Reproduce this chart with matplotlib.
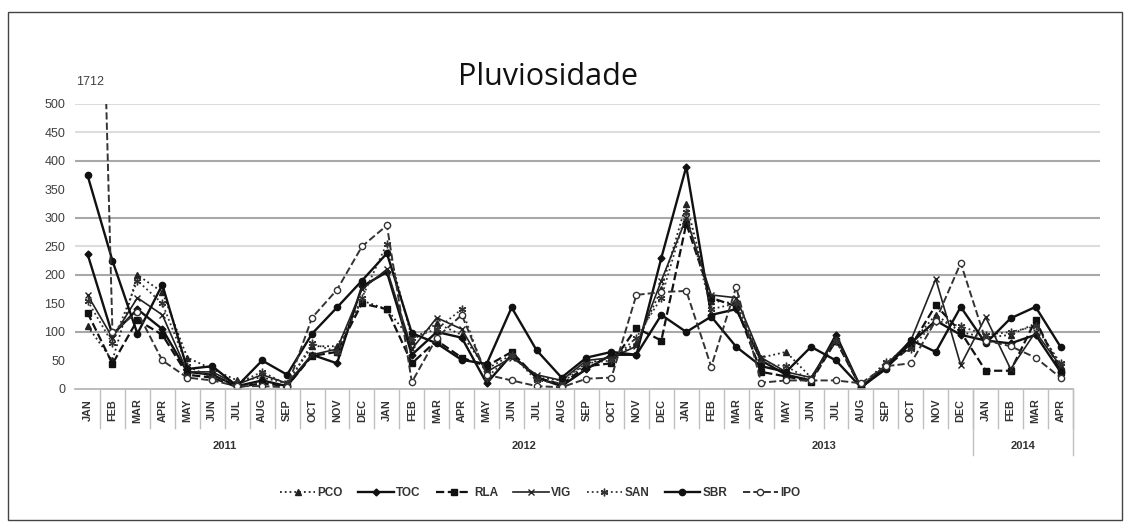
import matplotlib
matplotlib.use('Agg')
import matplotlib.pyplot as plt
import matplotlib.transforms as mtransforms
from matplotlib.patches import Rectangle

# monthly rainfall per station, JAN 2011 .. APR 2014
months = ['JAN', 'FEB', 'MAR', 'APR', 'MAY', 'JUN', 'JUL', 'AUG', 'SEP', 'OCT', 'NOV', 'DEC'] * 3 + ['JAN', 'FEB', 'MAR', 'APR']
years = ['2011', '2012', '2013', '2014']
year_len = [12, 12, 12, 4]

PCO = [110, 50, 200, 170, 55, 35, 15, 20, 10, 75, 75, 155, 140, 85, 115, 95, 35, 60, 20, 15,
       45, 55, 80, 175, 325, 155, 150, 55, 65, 20, 85, 3, 45, 80, 130, 100, 90, 95, 115, 40]
TOC = [237, 95, 140, 105, 30, 25, 5, 15, 5, 60, 45, 180, 205, 60, 100, 90, 10, 60, 20, 5,
       35, 60, 60, 230, 390, 130, 140, 50, 25, 15, 95, 2, 40, 80, 120, 95, 85, 80, 95, 30]
RLA = [134, 44, 121, 95, 25, 20, 3, 10, 5, 58, 65, 150, 140, 45, 85, 55, 40, 65, 20, 8,
       40, 45, 107, 85, 290, 160, 145, 30, 22, 13, 85, 2, 38, 75, 147, 100, 32, 32, 121, 30]
VIG = [165, 90, 160, 130, 30, 30, 8, 25, 10, 60, 70, 175, 210, 70, 125, 105, 30, 55, 25, 15,
       50, 55, 75, 190, 300, 165, 160, 55, 30, 20, 90, 3, 42, 85, 193, 42, 126, 35, 100, 40]
SAN = [155, 80, 190, 150, 40, 20, 10, 30, 8, 80, 65, 160, 255, 90, 105, 140, 20, 60, 15, 10,
       45, 50, 90, 160, 310, 140, 150, 45, 40, 15, 85, 3, 48, 70, 120, 110, 95, 100, 110, 45]
SBR = [375, 225, 97, 183, 35, 40, 5, 50, 25, 97, 143, 190, 238, 98, 80, 51, 44, 143, 68, 20,
       55, 65, 60, 130, 100, 127, 74, 40, 30, 74, 50, 3, 35, 86, 65, 144, 80, 124, 144, 74]
IPO = [1712, 100, 135, 50, 20, 15, 5, 5, 3, 125, 174, 250, 287, 12, 90, 130, 25, 15, 5, 3,
       18, 20, 165, 170, 172, 39, 179, 11, 15, 15, 15, 10, 40, 45, 120, 221, 85, 75, 55, 20]

plt.rcParams['font.family'] = ['Liberation Sans', 'DejaVu Sans']

fig = plt.figure(figsize=(11.3, 5.27), dpi=100)
ax = fig.add_axes([0.0664, 0.2619, 0.907, 0.5408])

x = list(range(len(months)))

ax.plot(x, PCO, ls=':', lw=1.3, color='#222222', marker='^', ms=4.5, label='PCO')
ax.plot(x, TOC, ls='-', lw=1.7, color='#111111', marker='D', ms=3.5, label='TOC')
ax.plot(x, RLA, ls='--', lw=1.6, color='#111111', marker='s', ms=4.5, label='RLA')
ax.plot(x, VIG, ls='-', lw=1.2, color='#222222', marker='x', ms=4.5, label='VIG')
ax.plot(x, SAN, ls=':', lw=1.3, color='#333333', marker=(6, 2, 0), ms=5.5, label='SAN')
ax.plot(x, SBR, ls='-', lw=1.7, color='#111111', marker='o', ms=4.5, label='SBR')
ax.plot(x, IPO, ls='--', lw=1.4, color='#333333', marker='o', ms=4.5, mfc='white', label='IPO')

ax.set_ylim(0, 500)
ax.set_xlim(-0.5, 40.58)
ax.set_yticks(range(0, 501, 50))
ax.tick_params(axis='y', length=0, pad=7, labelsize=9, labelcolor='#404040')
ax.set_xticks([])
for s in ax.spines.values():
    s.set_visible(False)

# grid: darker at the hundreds, light at a few others
for v in [100, 200, 300, 400]:
    ax.axhline(v, color='#a8a8a8', lw=1.5, zorder=0)
for v in [250, 450, 500]:
    ax.axhline(v, color='#dddddd', lw=1.5, zorder=0)

# category axis
trans = mtransforms.blended_transform_factory(ax.transData, ax.transAxes)
ax.plot([-0.5, len(months) - 0.5], [0, 0], color='#b0b0b0', lw=1.2, transform=trans, clip_on=False)
for k in range(len(months)):
    ax.plot([k + 0.5, k + 0.5], [0, -0.137], color='#c0c0c0', lw=1.0, transform=trans, clip_on=False)
    ax.text(k, -0.074, months[k], rotation=90, ha='center', va='center', fontsize=7.8,
            fontweight='bold', color='#333333', transform=trans)

start = 0
for yr, n in zip(years, year_len):
    ax.text(start + (n - 1) / 2, -0.2, yr, ha='center', va='center', fontsize=8,
            fontweight='bold', color='#333333', transform=trans)
    start += n
for b in [35.5, 39.5]:
    ax.plot([b, b], [0, -0.232], color='#c0c0c0', lw=1.0, transform=trans, clip_on=False)

# value label for the clipped outlier
ax.annotate(str(IPO[0]), xy=(0, 500), xytext=(2, 16), textcoords='offset points',
            ha='center', va='center', fontsize=9, color='#404040', annotation_clip=False)

fig.text(0.485, 0.853, 'Pluviosidade', ha='center', va='center', fontsize=22,
         family=['Open Sans', 'DejaVu Sans'], color='#111111')

leg = fig.legend(loc='center', bbox_to_anchor=(0.478, 0.065), ncol=7, frameon=False,
                 handlelength=3.0, handletextpad=0.2, columnspacing=1.3,
                 prop={'size': 8.5, 'weight': 'bold'})
for t in leg.get_texts():
    t.set_color('#333333')

fig.patches.append(Rectangle((8 / 1130, 7 / 527), 1114 / 1130, 508 / 527, transform=fig.transFigure,
                             fill=False, edgecolor='#444444', lw=1.0))

fig.savefig('out.png', dpi=100)
